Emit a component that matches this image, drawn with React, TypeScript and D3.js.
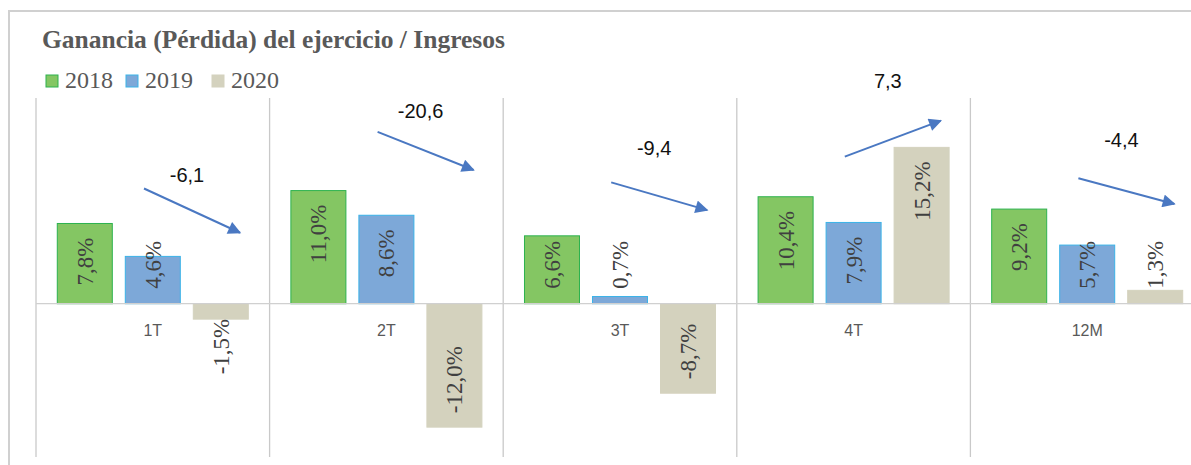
import React, { useEffect, useRef } from "react";
import * as d3 from "d3";

const categories = ["1T", "2T", "3T", "4T", "12M"];
const seriesNames = ["2018", "2019", "2020"];
const values2018 = [7.8, 11.0, 6.6, 10.4, 9.2];
const values2019 = [4.6, 8.6, 0.7, 7.9, 5.7];
const values2020 = [-1.5, -12.0, -8.7, 15.2, 1.3];
// annotation arrows (in value units)
const arrowFrom = [11.2, 16.7, 11.8, 14.3, 12.2];
const arrowTo = [6.9, 13.0, 9.1, 17.8, 9.7];
const arrowLabelAt = [12.5, 18.7, 15.1, 21.7, 15.9];

const fills = ["#84C663", "#7DA8D8", "#D4D2BE"];
const strokes = ["#2DB24F", "#3BB3E8", "#D4D2BE"];

const fmt = (v: number) => d3.format(".1f")(v).replace(".", ",").replace("\u2212", "-");

export default function App() {
  const ref = useRef<SVGSVGElement | null>(null);

  useEffect(() => {
    const svg = d3.select(ref.current);
    svg.selectAll("*").remove();
    const W = 1191, H = 465;

    const x = d3.scaleBand<string>().domain(categories).range([36, 36 + 233.6 * 5]).padding(0);
    const xs = d3.scaleBand<string>().domain(seriesNames).range([0, x.bandwidth()]).paddingInner(0.191).paddingOuter(0.313);
    const y = d3.scaleLinear().domain([-15, 20]).range([458, 98]);
    const zero = y(0);

    const defs = svg.append("defs");
    defs.append("marker").attr("id", "ah").attr("viewBox", "0 0 10 10").attr("refX", 9).attr("refY", 5)
      .attr("markerWidth", 7.5).attr("markerHeight", 6.5).attr("markerUnits", "strokeWidth").attr("orient", "auto")
      .append("path").attr("d", "M0,0 L10,5 L0,10 z").attr("fill", "#4A78C2");

    // outer border
    svg.append("rect").attr("x", 9).attr("y", 11).attr("width", W + 20).attr("height", H + 20)
      .attr("fill", "none").attr("stroke", "#D0D0D0").attr("stroke-width", 2);

    // title
    svg.append("text").attr("x", 42).attr("y", 48).text("Ganancia (Pérdida) del ejercicio / Ingresos")
      .attr("font-family", "'Liberation Serif', 'Times New Roman', serif").attr("font-weight", "bold")
      .attr("font-size", 25.5).attr("fill", "#595959");

    // legend
    const legX = [46, 126, 212];
    seriesNames.forEach((s, i) => {
      svg.append("rect").attr("x", legX[i]).attr("y", 75).attr("width", 12).attr("height", 12)
        .attr("fill", fills[i]).attr("stroke", strokes[i]).attr("stroke-width", 1);
      svg.append("text").attr("x", legX[i] + 19).attr("y", 88).text(s)
        .attr("font-family", "'Liberation Serif', 'Times New Roman', serif")
        .attr("font-size", 24).attr("fill", "#595959");
    });

    // vertical gridlines at category boundaries
    const bounds = categories.map((c) => x(c)!).concat([x(categories[categories.length - 1])! + x.bandwidth()]);
    svg.append("g").selectAll("line").data(bounds).join("line")
      .attr("x1", (d) => d).attr("x2", (d) => d).attr("y1", 98).attr("y2", 457)
      .attr("stroke", "#C9C9C9").attr("stroke-width", 1.3);

    const allSeries = [values2018, values2019, values2020];

    // bars
    allSeries.forEach((vals, si) => {
      svg.append("g").selectAll("rect").data(vals).join("rect")
        .attr("x", (_d, i) => x(categories[i])! + xs(seriesNames[si])!)
        .attr("width", xs.bandwidth())
        .attr("y", (d) => Math.min(y(d), zero))
        .attr("height", (d) => Math.abs(y(d) - zero))
        .attr("fill", fills[si]).attr("stroke", strokes[si]).attr("stroke-width", 1);
    });

    // zero line
    svg.append("line").attr("x1", 36).attr("x2", W + 20).attr("y1", zero).attr("y2", zero)
      .attr("stroke", "#D0D0D0").attr("stroke-width", 1.3);

    // category labels
    svg.append("g").selectAll("text").data(categories).join("text")
      .attr("x", (d) => x(d)! + x.bandwidth() / 2).attr("y", zero + 32).text((d) => d)
      .attr("text-anchor", "middle").attr("font-family", "'Liberation Sans', Arial, sans-serif")
      .attr("font-size", 16).attr("fill", "#595959");

    // data labels
    allSeries.forEach((vals, si) => {
      vals.forEach((v, i) => {
        const cx = x(categories[i])! + xs(seriesNames[si])! + xs.bandwidth() / 2;
        const t = svg.append("text").text(fmt(v) + "%")
          .attr("font-family", "'Liberation Serif', 'Times New Roman', serif")
          .attr("font-size", 23).attr("fill", "#404040").attr("text-anchor", "start");
        const L = (t.node() as SVGTextElement).getComputedTextLength();
        let bottom: number;
        if (v >= 0) {
          const top = Math.min(y(v) + 14, zero - 15 - L);
          bottom = top + L;
        } else {
          bottom = Math.max(y(v) - 14, zero + 15 + L);
        }
        t.attr("transform", `translate(${cx + 8},${bottom}) rotate(-90)`);
      });
    });

    // arrows + difference labels
    categories.forEach((c, i) => {
      const x0 = x(c)!;
      svg.append("line").attr("x1", x0 + 108).attr("y1", y(arrowFrom[i]))
        .attr("x2", x0 + 204).attr("y2", y(arrowTo[i]))
        .attr("stroke", "#4A78C2").attr("stroke-width", 2).attr("marker-end", "url(#ah)");
      const diff = values2020[i] - values2019[i];
      svg.append("text").attr("x", x0 + 151).attr("y", y(arrowLabelAt[i]) + 7)
        .text(fmt(diff))
        .attr("text-anchor", "middle").attr("font-family", "'Liberation Sans', Arial, sans-serif")
        .attr("font-size", 20).attr("fill", "#111");
    });
  }, []);

  return (
    <svg ref={ref} width={1191} height={465}
      style={{ position: "absolute", left: 0, top: 0, background: "#fff" }} />
  );
}
